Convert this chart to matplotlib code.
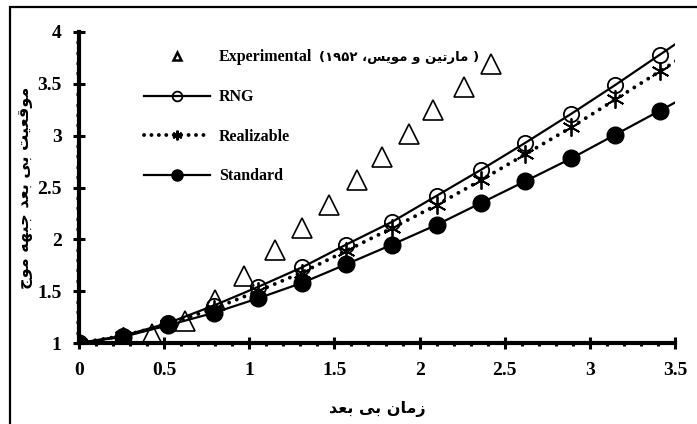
import matplotlib
matplotlib.use("Agg")
import matplotlib.pyplot as plt
from matplotlib.lines import Line2D
from matplotlib.patches import Rectangle
from matplotlib.ticker import MultipleLocator
from matplotlib import font_manager

# ---------------- data ----------------
t_sim = [0, 0.26, 0.52, 0.79, 1.05, 1.31, 1.57, 1.84, 2.10, 2.36, 2.62, 2.89, 3.15, 3.41, 3.67]
rng_vals = [1.0, 1.07, 1.19, 1.36, 1.54, 1.73, 1.95, 2.17, 2.42, 2.67, 2.93, 3.21, 3.49, 3.78, 4.07]
realizable_vals = [1.0, 1.07, 1.18, 1.33, 1.50, 1.68, 1.89, 2.11, 2.33, 2.57, 2.82, 3.08, 3.35, 3.62, 3.89]
standard_vals = [1.0, 1.06, 1.17, 1.29, 1.43, 1.58, 1.76, 1.95, 2.14, 2.35, 2.56, 2.78, 3.01, 3.24, 3.47]

t_exp = [0.43, 0.62, 0.80, 0.97, 1.15, 1.31, 1.47, 1.63, 1.78, 1.94, 2.08, 2.26, 2.42]
exp_vals = [1.09, 1.21, 1.41, 1.65, 1.90, 2.11, 2.33, 2.57, 2.79, 3.02, 3.25, 3.47, 3.69]

x_ticks = [0, 0.5, 1, 1.5, 2, 2.5, 3, 3.5]
x_tick_labels = ["0", "0.5", "1", "1.5", "2", "2.5", "3", "3.5"]
y_ticks = [1, 1.5, 2, 2.5, 3, 3.5, 4]
y_tick_labels = ["1", "1.5", "2", "2.5", "3", "3.5", "4"]

x_label = "زمان بی بعد"
y_label = "موقعیت بی بعد جبهه موج"
exp_ref = "مارتین و مویس، ۱۹۵۲"
series_names = ["Experimental", "RNG", "Realizable", "Standard"]

# -------- minimal Persian shaping (presentation forms + visual order) --------
FORMS = {
    'ا': ('\uFE8D', '\uFE8E'),
    'ب': ('\uFE8F', '\uFE90', '\uFE91', '\uFE92'),
    'ت': ('\uFE95', '\uFE96', '\uFE97', '\uFE98'),
    'ج': ('\uFE9D', '\uFE9E', '\uFE9F', '\uFEA0'),
    'د': ('\uFEA9', '\uFEAA'),
    'ر': ('\uFEAD', '\uFEAE'),
    'ز': ('\uFEAF', '\uFEB0'),
    'س': ('\uFEB1', '\uFEB2', '\uFEB3', '\uFEB4'),
    'ع': ('\uFEC9', '\uFECA', '\uFECB', '\uFECC'),
    'ق': ('\uFED5', '\uFED6', '\uFED7', '\uFED8'),
    'م': ('\uFEE1', '\uFEE2', '\uFEE3', '\uFEE4'),
    'ن': ('\uFEE5', '\uFEE6', '\uFEE7', '\uFEE8'),
    'ه': ('\uFEE9', '\uFEEA', '\uFEEB', '\uFEEC'),
    'و': ('\uFEED', '\uFEEE'),
    'ی': ('\uFBFC', '\uFBFD', '\uFBFE', '\uFBFF'),
}
DIGITS = set('۰۱۲۳۴۵۶۷۸۹0123456789')


def rtl(s):
    shaped = []
    for i, c in enumerate(s):
        if c not in FORMS:
            shaped.append(c)
            continue
        prev = s[i - 1] if i > 0 else None
        nxt = s[i + 1] if i + 1 < len(s) else None
        jp = prev in FORMS and len(FORMS[prev]) == 4
        jn = nxt in FORMS and len(FORMS[c]) == 4
        f = FORMS[c]
        if jp and jn:
            shaped.append(f[3])
        elif jp:
            shaped.append(f[1])
        elif jn:
            shaped.append(f[2])
        else:
            shaped.append(f[0])
    tokens = []
    for ch, orig in zip(shaped, s):
        if orig in DIGITS and tokens and tokens[-1][0] == 'd':
            tokens[-1][1].append(ch)
        elif orig in DIGITS:
            tokens.append(['d', [ch]])
        else:
            tokens.append(['c', [ch]])
    return ''.join(''.join(t[1]) for t in reversed(tokens))


installed = {f.name for f in font_manager.fontManager.ttflist}
ARAB = ['DejaVu Sans Condensed', 'DejaVu Sans'] if 'DejaVu Sans Condensed' in installed else ['DejaVu Sans']
SERIF = ['Liberation Serif'] + ARAB

plt.rcParams['font.family'] = SERIF
plt.rcParams['font.weight'] = 'bold'

fig = plt.figure(figsize=(6.97, 4.24), dpi=100)
ax = fig.add_axes([79 / 697, 1 - 343 / 424, (675 - 79) / 697, (343 - 32) / 424])

ax.plot(t_exp, exp_vals, linestyle='none', marker='^', markersize=15,
        markerfacecolor='none', markeredgecolor='black', markeredgewidth=1.2, zorder=3)
ax.plot(t_sim, standard_vals, color='black', linewidth=1.6, marker='o', markersize=12,
        markerfacecolor='black', markeredgecolor='black', zorder=4)
ax.plot(t_sim, realizable_vals, color='black', linewidth=2.8, linestyle=(0, (0.01, 2.1)),
        dash_capstyle='round', marker=(6, 2, 0), markersize=13,
        markeredgecolor='black', markeredgewidth=1.3, zorder=5)
ax.plot(t_sim, rng_vals, color='black', linewidth=1.6, marker='o', markersize=11,
        markerfacecolor='none', markeredgecolor='black', markeredgewidth=1.3, zorder=6)

ax.set_xlim(0, 3.5)
ax.set_ylim(1, 4)

for s in ['top', 'right']:
    ax.spines[s].set_visible(False)
for s in ['left', 'bottom']:
    ax.spines[s].set_linewidth(3)

ax.set_xticks(x_ticks)
ax.set_xticklabels(x_tick_labels)
ax.set_yticks(y_ticks)
ax.set_yticklabels(y_tick_labels)
ax.xaxis.set_minor_locator(MultipleLocator(0.1))
ax.yaxis.set_minor_locator(MultipleLocator(0.1))
ax.tick_params(which='major', direction='inout', length=9, width=2.2, labelsize=14)
ax.tick_params(which='minor', direction='out', length=2.5, width=2.2)
ax.tick_params(axis='x', which='major', pad=9)
ax.tick_params(axis='y', which='major', pad=8)
for lab in ax.get_xticklabels() + ax.get_yticklabels():
    lab.set_fontweight('bold')

ax.set_xlabel(rtl(x_label), family=ARAB, fontsize=11.5, fontweight='bold', labelpad=16)
ax.set_ylabel(rtl(y_label), family=ARAB, fontsize=11.5, fontweight='bold')
ax.yaxis.set_label_coords(-0.078, 0.5)

handles = [
    Line2D([], [], linestyle='none', marker='^', markersize=6, markerfacecolor='none',
           markeredgecolor='black', markeredgewidth=1.8),
    Line2D([], [], color='black', linewidth=1.6, marker='o', markersize=7,
           markerfacecolor='none', markeredgecolor='black', markeredgewidth=1.3),
    Line2D([], [], color='black', linewidth=2.8, linestyle=(0, (0.01, 1.9)),
           dash_capstyle='round', marker=(6, 2, 0), markersize=7, markeredgewidth=1.5,
           markeredgecolor='black'),
    Line2D([], [], color='black', linewidth=1.6, marker='o', markersize=8,
           markerfacecolor='black', markeredgecolor='black'),
]
leg = ax.legend(handles, series_names, loc='upper left', bbox_to_anchor=(0.085, 0.99),
                frameon=False, handlelength=4.1, handletextpad=0.6, labelspacing=1.48,
                numpoints=1, prop={'family': SERIF, 'weight': 'bold', 'size': 11.5})

# Arabic citation after the "Experimental" legend entry
fig.canvas.draw()
renderer = fig.canvas.get_renderer()
bb = leg.get_texts()[0].get_window_extent(renderer)
fig.text((bb.x1 + 7) / fig.bbox.width, (bb.y0 + bb.y1) / 2 / fig.bbox.height,
         "(" + rtl(exp_ref) + " )", family=ARAB, fontsize=9.5, fontweight='bold',
         ha='left', va='center')

# outer frame (left and top visible)
fig.patches.append(Rectangle((10 / 697, -0.05), 1.2, 1 - 7 / 424 + 0.05,
                             transform=fig.transFigure, fill=False,
                             edgecolor='black', linewidth=1.6))

fig.savefig('out.png', dpi=100)
